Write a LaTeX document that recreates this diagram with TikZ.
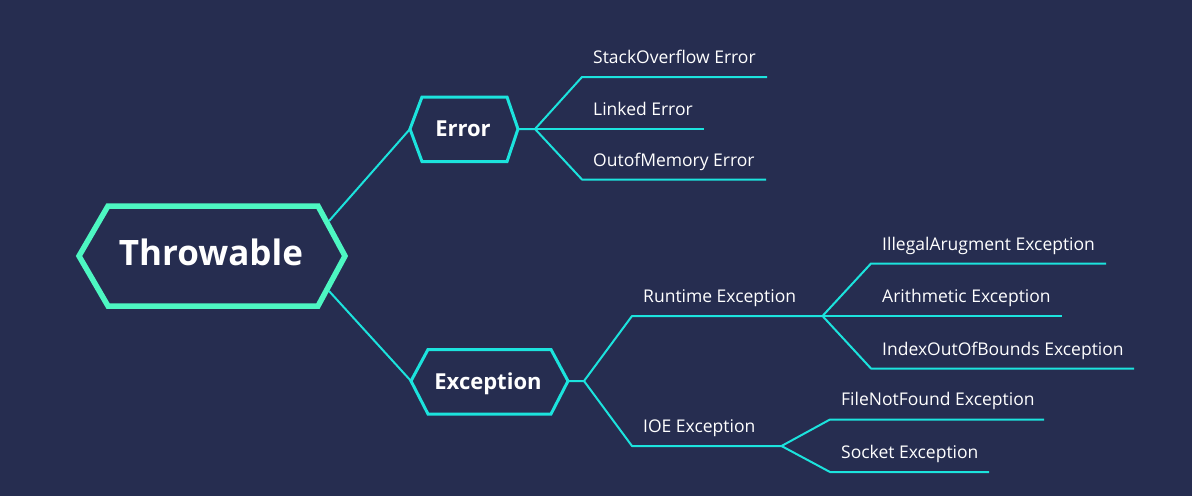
\documentclass[tikz,border=0pt]{standalone}
\usepackage{fontspec}
\setmainfont{Open Sans}
\definecolor{bg}{HTML}{262D50}
\definecolor{cyanl}{HTML}{1CE3DD}
\definecolor{mint}{HTML}{4DF7C2}
\begin{document}
\begin{tikzpicture}[x=1pt,y=-1pt,
  conn/.style={draw=cyanl,line width=2pt,line join=round},
  leaf/.style={anchor=base west,inner sep=0pt,text=white,font=\fontsize{17.5}{21}\selectfont},
  hexmain/.style={draw=mint,line width=5.5pt,line join=miter,fill=bg},
  hexsub/.style={draw=cyanl,line width=3pt,line join=miter,fill=bg},
  title/.style={anchor=base,inner sep=0pt,text=white,font=\bfseries\fontsize{22}{26}\selectfont}]
\fill[bg] (0,0) rectangle (1192,496);
\useasboundingbox (0,0) rectangle (1192,496);

% coordinates
\coordinate (thrUp) at (329,221);
\coordinate (thrDn) at (329,291);
\coordinate (errL) at (410,129);
\coordinate (errR) at (518,129);
\coordinate (errJ) at (535,129);
\coordinate (excL) at (411,381);
\coordinate (excR) at (568,381);
\coordinate (excJ) at (584,381);
\coordinate (so1) at (582,77); \coordinate (so2) at (767,77);
\coordinate (le2) at (704,129);
\coordinate (om1) at (582,179.5); \coordinate (om2) at (766,179.5);
\coordinate (rt1) at (632,316); \coordinate (rtJ) at (822.5,316);
\coordinate (io1) at (632,446); \coordinate (ioJ) at (781.5,446);
\coordinate (ia1) at (871,263.5); \coordinate (ia2) at (1106,263.5);
\coordinate (ar2) at (1062,316);
\coordinate (ix1) at (871,368.5); \coordinate (ix2) at (1134,368.5);
\coordinate (fn1) at (830,419.5); \coordinate (fn2) at (1044,419.5);
\coordinate (sk1) at (830,472); \coordinate (sk2) at (989,472);

% connectors
\draw[conn] (thrUp) -- (errL);
\draw[conn] (thrDn) -- (excL);
\draw[conn] (errR) -- (errJ) -- (so1) -- (so2);
\draw[conn] (errJ) -- (le2);
\draw[conn] (errJ) -- (om1) -- (om2);
\draw[conn] (excR) -- (excJ) -- (rt1) -- (rtJ);
\draw[conn] (excJ) -- (io1) -- (ioJ);
\draw[conn] (rtJ) -- (ia1) -- (ia2);
\draw[conn] (rtJ) -- (ar2);
\draw[conn] (rtJ) -- (ix1) -- (ix2);
\draw[conn] (ioJ) -- (fn1) -- (fn2);
\draw[conn] (ioJ) -- (sk1) -- (sk2);

% hexagons
\draw[hexmain] (79,256) -- (108,206) -- (318,206) -- (345,256) -- (318,306) -- (108,306) -- cycle;
\draw[hexsub] (410,129) -- (422,97) -- (507,97) -- (518,129) -- (507,161.5) -- (422,161.5) -- cycle;
\draw[hexsub] (411,381) -- (428,349.5) -- (551,349.5) -- (568,381) -- (551,414) -- (428,414) -- cycle;

% titles
\node[title,font=\bfseries\fontsize{35}{42}\selectfont] (throwable) at (211,265) {Throwable};
\node[title] (error) at (463,136) {Error};
\node[title] (exception) at (488,389) {Exception};

% leaves
\node[leaf] (stack) at (593,63) {StackOverflow Error};
\node[leaf] (linked) at (593,115) {Linked Error};
\node[leaf] (oom) at (593,166) {OutofMemory Error};
\node[leaf] (runtime) at (643,302.5) {Runtime Exception};
\node[leaf] (ioe) at (643,432.5) {IOE Exception};
\node[leaf] (illegal) at (882,250.5) {IllegalArugment Exception};
\node[leaf] (arith) at (882,302) {Arithmetic Exception};
\node[leaf] (index) at (882,355) {IndexOutOfBounds Exception};
\node[leaf] (filenf) at (841,405.5) {FileNotFound Exception};
\node[leaf] (socket) at (841,458.5) {Socket Exception};
\end{tikzpicture}
\end{document}
